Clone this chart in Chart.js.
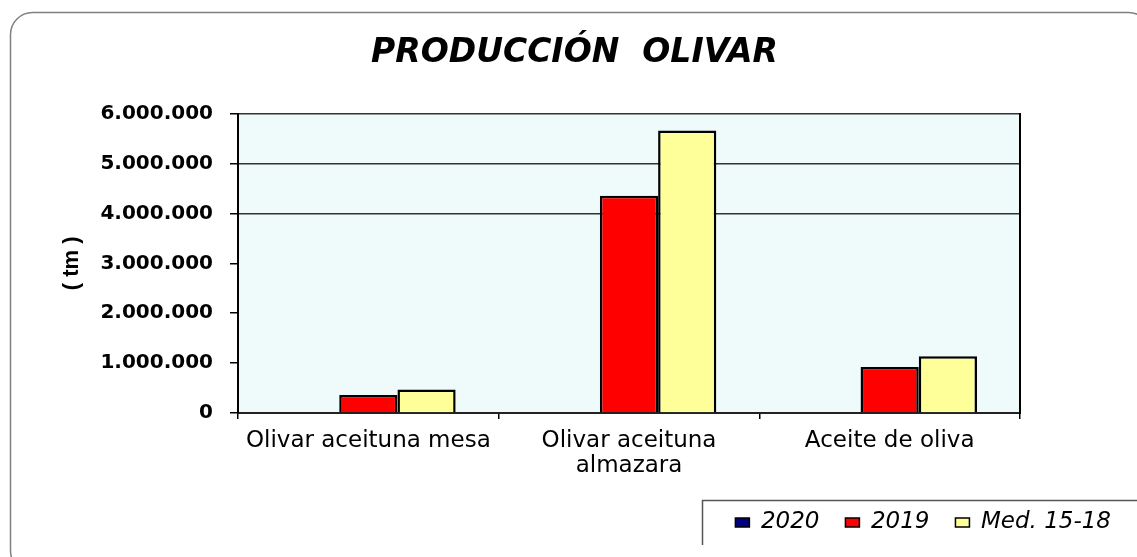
<!DOCTYPE html>
<html>
<head>
<meta charset="utf-8">
<script src="https://cdn.jsdelivr.net/npm/chart.js@4"></script>
<style>
html,body{margin:0;padding:0;background:#fff;}
#wrap{width:1137px;height:557px;position:relative;}
</style>
</head>
<body>
<div id="wrap"><canvas id="c" width="1137" height="557"></canvas></div>
<script>
const categories = ["Olivar aceituna mesa", ["Olivar aceituna", "almazara"], "Aceite de oliva"];
const seriesNames = ["2020", "2019", "Med. 15-18"];
const values2020 = [null, null, null];
const values2019 = [360000, 4355000, 920000];
const valuesMed = [470000, 5660000, 1135000];
const yTicks = [0, 1000000, 2000000, 3000000, 4000000, 5000000, 6000000];
const titleText = "PRODUCCIÓN  OLIVAR";
const yTitle = "( tm )";

const decor = {
  id: 'decor',
  beforeDraw(chart) {
    const {ctx, chartArea: a} = chart;
    ctx.save();
    ctx.fillStyle = '#effbfb';
    ctx.fillRect(a.left, a.top, a.right - a.left, a.bottom - a.top);
    ctx.strokeStyle = '#808080';
    ctx.lineWidth = 1.5;
    ctx.beginPath();
    ctx.roundRect(10.5, 12.5, 1140, 560, 22);
    ctx.stroke();
    ctx.strokeStyle = '#555';
    ctx.lineWidth = 1.5;
    ctx.beginPath();
    ctx.moveTo(702.5, 545);
    ctx.lineTo(702.5, 500.5);
    ctx.lineTo(1137, 500.5);
    ctx.stroke();
    ctx.restore();
  }
};

new Chart(document.getElementById('c'), {
  type: 'bar',
  data: {
    labels: categories,
    datasets: [
      {label: seriesNames[0], data: values2020, backgroundColor: '#000080', borderColor: '#000', borderWidth: 2.5},
      {label: seriesNames[1], data: values2019, backgroundColor: '#ff0000', borderColor: '#000', borderWidth: 2.5},
      {label: seriesNames[2], data: valuesMed, backgroundColor: '#ffff99', borderColor: '#000', borderWidth: 2.5}
    ]
  },
  options: {
    responsive: false,
    animation: false,
    devicePixelRatio: 1,
    layout: {padding: {left: 12, right: 0, top: 14, bottom: 13}},
    datasets: {bar: {categoryPercentage: 0.67, barPercentage: 1.0}},
    plugins: {
      tooltip: {enabled: false},
      title: {
        display: true,
        text: titleText,
        color: '#000',
        font: {family: 'DejaVu Sans', size: 33, weight: 'bold', style: 'italic', lineHeight: 1.2},
        padding: {top: 20, bottom: 40}
      },
      legend: {
        position: 'bottom',
        align: 'end',
        labels: {
          color: '#000',
          boxWidth: 14,
          boxHeight: 9,
          padding: 26,
          font: {family: 'DejaVu Sans', size: 23, style: 'italic'},
          generateLabels(chart) {
            const items = Chart.defaults.plugins.legend.labels.generateLabels(chart);
            items.forEach(it => { it.lineWidth = 1.5; });
            return items;
          }
        }
      }
    },
    scales: {
      x: {
        offset: true,
        grid: {display: true, drawOnChartArea: false, offset: true, tickLength: 6, color: '#000', lineWidth: 1.5},
        border: {display: true, color: '#222', width: 2},
        ticks: {color: '#000', padding: 9, maxRotation: 0, autoSkip: false,
          font: {family: 'DejaVu Sans', size: 23, lineHeight: 1.1}},
        afterFit(s) { s.height = 72; }
      },
      y: {
        min: 0, max: 6000000,
        afterBuildTicks(s) { s.ticks = yTicks.map(v => ({value: v})); },
        grid: {
          color: (c) => (c.tick && c.tick.value >= 4000000 ? '#333' : 'rgba(0,0,0,0)'),
          tickColor: '#000',
          lineWidth: 1.5,
          tickLength: 8
        },
        border: {display: true, color: '#000', width: 2},
        ticks: {
          color: '#000', padding: 17,
          font: {family: 'DejaVu Sans', size: 20, weight: 'bold'},
          callback: (v) => Number(v).toLocaleString('de-DE')
        },
        title: {
          display: true, text: yTitle, color: '#000',
          font: {family: 'Liberation Sans', size: 22, weight: 'bold', lineHeight: 1.2},
          padding: {top: 47, bottom: 0}
        },
        afterFit(s) { s.width = 226; }
      },
      y2: {
        position: 'right',
        min: 0, max: 6000000,
        grid: {display: false, drawOnChartArea: false, drawTicks: false},
        border: {display: true, color: '#000', width: 2},
        ticks: {display: false},
        afterFit(s) { s.width = 117; }
      }
    }
  },
  plugins: [decor]
});
</script>
</body>
</html>
